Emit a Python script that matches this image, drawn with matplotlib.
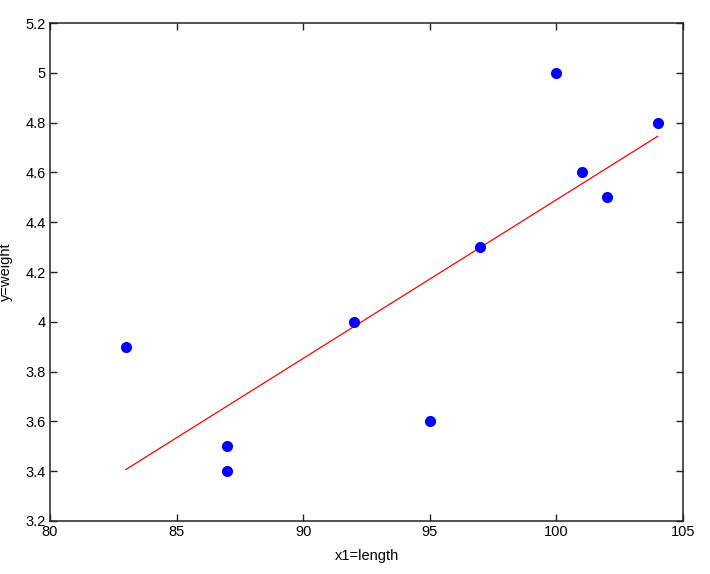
import matplotlib
matplotlib.use("Agg")
import matplotlib.pyplot as plt

length = [83, 87, 87, 92, 95, 97, 100, 101, 102, 104]
weight = [3.9, 3.5, 3.4, 4.0, 3.6, 4.3, 5.0, 4.6, 4.5, 4.8]
fit_x = [83, 104]
fit_y = [3.407, 4.745]
xticks = [80, 85, 90, 95, 100, 105]
yticks = [3.2, 3.4, 3.6, 3.8, 4.0, 4.2, 4.4, 4.6, 4.8, 5.0, 5.2]
yticklabels = ["3.2", "3.4", "3.6", "3.8", "4", "4.2", "4.4", "4.6", "4.8", "5", "5.2"]

plt.rcParams['font.family'] = ['Liberation Sans', 'DejaVu Sans']
fig = plt.figure(figsize=(7.1, 5.74), dpi=100)
ax = fig.add_axes([50/710, 1-521/574, (683-50)/710, (521-23)/574])

ax.plot(length, weight, 'o', color='#0000ff', markersize=7, zorder=3)
ax.plot(fit_x, fit_y, '-', color='#ff0000', linewidth=0.9, zorder=2)

ax.set_xlim(80, 105)
ax.set_ylim(3.2, 5.2)
ax.set_xticks(xticks)
ax.set_xticklabels([str(t) for t in xticks])
ax.set_yticks(yticks)
ax.set_yticklabels(yticklabels)
ax.tick_params(direction='in', top=True, right=True, length=5, width=1,
               labelsize=10.5, pad=3, color='#222222')
for s in ax.spines.values():
    s.set_linewidth(1.1)
    s.set_color('#222222')
ax.set_xlabel('x1=length', fontsize=10.5, labelpad=7)
ax.set_ylabel('y=weight', fontsize=10.5, labelpad=9)

fig.savefig('out.png', dpi=100)
